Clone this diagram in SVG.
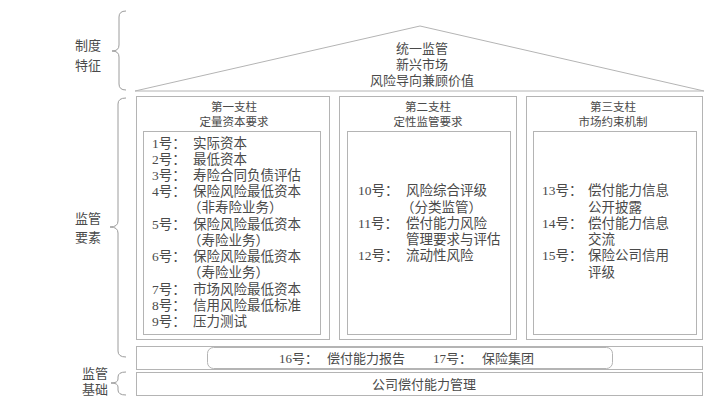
<svg xmlns="http://www.w3.org/2000/svg" width="720" height="405" viewBox="0 0 720 405">
<style>
text{font-family:"Liberation Serif","Noto Sans CJK SC",serif;fill:#4a4a4a;dominant-baseline:central}
.lab{font-size:13px;text-anchor:middle}
.ttl{font-size:11.5px;text-anchor:middle}
.it{font-size:13.5px}
.box{fill:#fff;stroke:#b4b4b4;stroke-width:1}
.br{fill:none;stroke:#9c9c9c;stroke-width:1}
</style>
<rect width="720" height="405" fill="#fff"/>
<g id="braces">
<path class="br" d="M126 11 Q119 11 119 17 L119 45 Q119 51 112 51 Q119 51 119 57 L119 84 Q119 90 126 90"/>
<path class="br" d="M126 98 Q118 98 118 104 L118 221 Q118 227 110 227 Q118 227 118 233 L118 351 Q118 357 126 357"/>
<path class="br" d="M126 372 Q118 372 118 377 L118 379 Q118 383 111 383 Q118 383 118 387 L118 390 Q118 395 126 395"/>
</g>
<g id="label-zhidu"><text class="lab" x="88" y="45">制度</text><text class="lab" x="88" y="65">特征</text></g>
<g id="label-jianguan-yaosu"><text class="lab" x="88" y="218">监管</text><text class="lab" x="88" y="237">要素</text></g>
<g id="label-jianguan-jichu"><text class="lab" x="95" y="373">监管</text><text class="lab" x="95" y="389">基础</text></g>
<g id="roof">
<polygon class="box" points="135,91 420,26 704,91"/>
<text class="lab" x="422" y="48">统一监管</text>
<text class="lab" x="422" y="64">新兴市场</text>
<text class="lab" x="422" y="80">风险导向兼顾价值</text>
</g>
<g id="pillar1">
<rect class="box" x="136.5" y="96.5" width="193" height="243"/>
<text class="ttl" x="234" y="107">第一支柱</text>
<text class="ttl" x="234" y="122">定量资本要求</text>
<rect class="box" x="143.5" y="131.5" width="177" height="203"/>
<text class="it" x="152" y="143">1号：</text><text class="it" x="193" y="143">实际资本</text>
<text class="it" x="152" y="159">2号：</text><text class="it" x="193" y="159">最低资本</text>
<text class="it" x="152" y="175">3号：</text><text class="it" x="193" y="175">寿险合同负债评估</text>
<text class="it" x="152" y="191">4号：</text><text class="it" x="193" y="191">保险风险最低资本</text>
<text class="it" x="188" y="207">（非寿险业务）</text>
<text class="it" x="152" y="224">5号：</text><text class="it" x="193" y="224">保险风险最低资本</text>
<text class="it" x="188" y="240">（寿险业务）</text>
<text class="it" x="152" y="256">6号：</text><text class="it" x="193" y="256">保险风险最低资本</text>
<text class="it" x="188" y="272">（寿险业务）</text>
<text class="it" x="152" y="289">7号：</text><text class="it" x="193" y="289">市场风险最低资本</text>
<text class="it" x="152" y="305">8号：</text><text class="it" x="193" y="305">信用风险最低标准</text>
<text class="it" x="152" y="321">9号：</text><text class="it" x="193" y="321">压力测试</text>
</g>
<g id="pillar2">
<rect class="box" x="339.5" y="96.5" width="177" height="243"/>
<text class="ttl" x="428" y="107">第二支柱</text>
<text class="ttl" x="428" y="122">定性监管要求</text>
<rect class="box" x="347.5" y="131.5" width="163" height="203"/>
<text class="it" x="358" y="190">10号：</text><text class="it" x="406" y="190">风险综合评级</text>
<text class="it" x="401" y="207">（分类监管）</text>
<text class="it" x="358" y="223">11号：</text><text class="it" x="406" y="223">偿付能力风险</text>
<text class="it" x="406" y="239">管理要求与评估</text>
<text class="it" x="358" y="255">12号：</text><text class="it" x="406" y="255">流动性风险</text>
</g>
<g id="pillar3">
<rect class="box" x="526.5" y="96.5" width="176" height="243"/>
<text class="ttl" x="613" y="107">第三支柱</text>
<text class="ttl" x="613" y="122">市场约束机制</text>
<rect class="box" x="533.5" y="131.5" width="163" height="203"/>
<text class="it" x="542" y="190">13号：</text><text class="it" x="588" y="190">偿付能力信息</text>
<text class="it" x="588" y="207">公开披露</text>
<text class="it" x="542" y="223">14号：</text><text class="it" x="588" y="223">偿付能力信息</text>
<text class="it" x="588" y="239">交流</text>
<text class="it" x="542" y="255">15号：</text><text class="it" x="588" y="255">保险公司信用</text>
<text class="it" x="588" y="272">评级</text>
</g>
<g id="row-reports">
<rect class="box" x="136.5" y="346.5" width="566" height="23"/>
<rect class="box" x="207.5" y="347.5" width="405" height="21" rx="6"/>
<text style="font-size:13px" x="279" y="358">16号：</text>
<text style="font-size:13px" x="327" y="358">偿付能力报告</text>
<text style="font-size:13px" x="433" y="358">17号：</text>
<text style="font-size:13px" x="482" y="358">保险集团</text>
</g>
<g id="row-foundation">
<rect class="box" x="136.5" y="372.5" width="566" height="23"/>
<text class="lab" x="424" y="384">公司偿付能力管理</text>
</g>
</svg>
